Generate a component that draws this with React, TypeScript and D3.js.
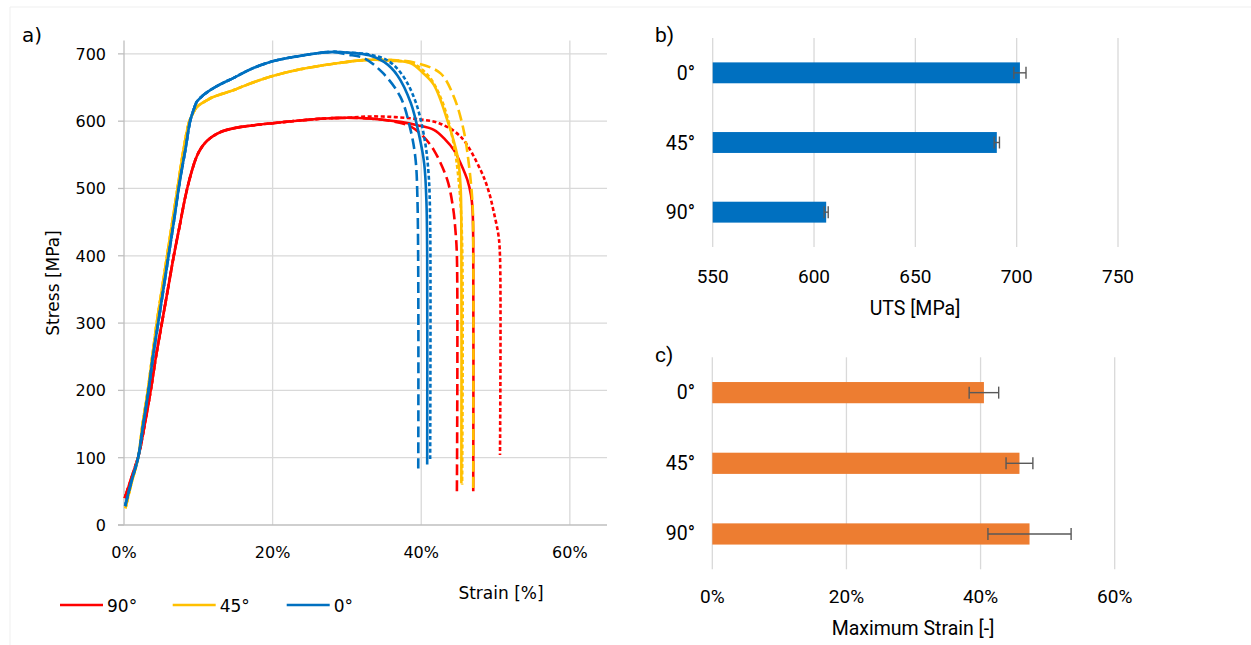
import React from 'react';
import * as d3 from 'd3';

// ---------- Panel a: stress-strain curves (strain in %, stress in MPa) ----------
const strainTicks = [0, 20, 40, 60];
const stressTicks = [0, 100, 200, 300, 400, 500, 600, 700];

const base0: [number, number][] = [[0.15, 28], [1.0, 65], [1.9, 100], [2.6, 150], [3.3, 200], [3.9, 250], [4.6, 300], [5.3, 350], [6.0, 400], [6.7, 450], [7.5, 510], [8.3, 560], [8.9, 600], [9.4, 618], [9.8, 629], [10.6, 638], [11.6, 646], [13, 655], [14.7, 664], [17, 677], [20, 689], [23.7, 697], [26, 701], [28.2, 703]];
const base45: [number, number][] = [[0.2, 25], [1.0, 62], [1.9, 100], [2.5, 150], [3.2, 200], [3.8, 250], [4.4, 300], [5.1, 350], [5.8, 400], [6.5, 450], [7.2, 500], [8.0, 557], [8.8, 600], [9.4, 614], [9.8, 621], [11, 630], [12, 636], [14.7, 646], [17, 656], [20, 667], [23.7, 677], [28, 685], [32.7, 691]];
const base90: [number, number][] = [[0.1, 40], [1.0, 70], [2.0, 105], [2.8, 150], [3.6, 200], [4.3, 250], [5.1, 300], [5.9, 350], [6.7, 400], [7.5, 445], [8.3, 490], [9.1, 525], [9.8, 548], [10.5, 562], [11.2, 571], [12, 578], [13, 584], [15, 590], [17.5, 594], [20, 597], [23.7, 601], [27, 604], [30, 605]];

const tail0Solid: [number, number][] = [[30, 702], [33, 698], [35, 688], [36.8, 668], [38.6, 627], [39.7, 580], [40.4, 537], [40.7, 480], [40.8, 400], [40.8, 90]];
const tail0Dashed: [number, number][] = [[30, 699], [32.2, 694], [34.8, 672], [37.2, 636], [38.5, 590], [39.2, 547], [39.5, 480], [39.6, 84]];
const tail0Dotted: [number, number][] = [[30, 702], [33, 699], [35.5, 690], [37.5, 668], [39.3, 627], [40.5, 570], [41.0, 520], [41.2, 450], [41.2, 98]];
const tail45Solid: [number, number][] = [[36, 690], [38.6, 686], [40.2, 672], [41.7, 654], [43.5, 602], [44.9, 547], [45.3, 502], [45.4, 430], [45.4, 62]];
const tail45Dashed: [number, number][] = [[36, 691], [39.5, 686], [42.6, 671], [44.4, 636], [45.7, 587], [46.4, 537], [46.9, 478], [47.0, 420], [47.0, 50]];
const tail45Dotted: [number, number][] = [[36, 690], [38.8, 686], [41, 667], [42.8, 630], [44.3, 570], [45.1, 505], [45.5, 420], [45.5, 60]];
const tail90Solid: [number, number][] = [[33, 604], [37.2, 599], [39.5, 594], [41.7, 587], [43.2, 573], [44.4, 557], [45.4, 535], [46.2, 513], [46.7, 490], [46.9, 470], [47.0, 420], [47.0, 50]];
const tail90Dashed: [number, number][] = [[33, 604], [36, 600], [38.6, 592], [40.3, 577], [41.7, 557], [43.5, 513], [44.3, 470], [44.6, 438], [44.8, 400], [44.8, 50]];
const tail90Dotted: [number, number][] = [[33, 607], [36.5, 606], [39.5, 603], [42.4, 597], [45.3, 577], [48, 527], [49.1, 495], [49.8, 463], [50.4, 430], [50.6, 399], [50.6, 104]];

const legendItems = ['90°', '45°', '0°'];
const colorOf: Record<string, string> = { '90°': '#FF0000', '45°': '#FFC000', '0°': '#0070C0' };

const curves = [
  { ori: '90°', dash: null, pts: [...base90, ...tail90Solid] },
  { ori: '90°', dash: '11,5', pts: [...base90, ...tail90Dashed] },
  { ori: '90°', dash: '4,2.5', pts: [...base90, ...tail90Dotted] },
  { ori: '45°', dash: null, pts: [...base45, ...tail45Solid] },
  { ori: '45°', dash: '11,5', pts: [...base45, ...tail45Dashed] },
  { ori: '45°', dash: '4,2.5', pts: [...base45, ...tail45Dotted] },
  { ori: '0°', dash: '4,2.5', pts: [...base0, ...tail0Dotted] },
  { ori: '0°', dash: '11,5', pts: [...base0, ...tail0Dashed] },
  { ori: '0°', dash: null, pts: [...base0, ...tail0Solid] },
];

// ---------- Panel b: UTS ----------
const barCategories = ['0°', '45°', '90°'];
const utsValues = [701.6, 690.2, 606.0];
const utsErrors = [3.0, 1.3, 1.0];
const utsTicks = [550, 600, 650, 700, 750];

// ---------- Panel c: maximum strain (%) ----------
const strainMaxValues = [40.5, 45.8, 47.3];
const strainMaxErrors = [2.2, 2.0, 6.2];
const strainMaxTicks = [0, 20, 40, 60];

const GRID = '#d9d9d9';
const AXIS = '#bfbfbf';
const FA = 'DejaVu Sans, sans-serif';
const FB = 'Roboto, sans-serif';

export default function App() {
  // Panel a scales
  const xA = d3.scaleLinear().domain([0, 65]).range([124, 607]);
  const yA = d3.scaleLinear().domain([0, 720]).range([525, 40.4]);
  const line = d3.line<[number, number]>().x(d => xA(d[0])).y(d => yA(d[1])).curve(d3.curveCatmullRom.alpha(0.5));

  // Panel b scales
  const xB = d3.scaleLinear().domain([550, 750]).range([712.7, 1118]);
  const yB = d3.scaleBand<string>().domain(barCategories).range([38, 247]).paddingInner(0.7).paddingOuter(0.35);

  // Panel c scales
  const xC = d3.scaleLinear().domain([0, 60]).range([712.3, 1114.7]);
  const yC = d3.scaleBand<string>().domain(barCategories).range([357.3, 569.3]).paddingInner(0.7).paddingOuter(0.35);

  const legendX = [60, 172.7, 286.7];

  return (
    <svg width={1251} height={645} style={{ position: 'absolute', left: 0, top: 0, background: '#fff' }}>
      <rect x={0} y={0} width={1251} height={645} fill="#fff" />
      <line x1={10} y1={7} x2={1251} y2={7} stroke="#efefef" strokeWidth={1} />
      <line x1={10} y1={7} x2={10} y2={645} stroke="#efefef" strokeWidth={1} />

      {/* ---------- Panel a ---------- */}
      <text x={22} y={42} fontFamily={FA} fontSize={20} fill="#000">a)</text>
      {stressTicks.filter(t => t > 0).map(t => (
        <line key={'hg' + t} x1={xA(0)} x2={xA(65)} y1={yA(t)} y2={yA(t)} stroke={GRID} strokeWidth={1.3} />
      ))}
      {strainTicks.filter(t => t > 0).map(t => (
        <line key={'vg' + t} x1={xA(t)} x2={xA(t)} y1={yA(720)} y2={yA(0)} stroke={GRID} strokeWidth={1.3} />
      ))}
      <line x1={xA(0)} x2={xA(0)} y1={yA(720)} y2={yA(0)} stroke={AXIS} strokeWidth={1.3} />
      <line x1={xA(0) - 6} x2={xA(65)} y1={yA(0)} y2={yA(0)} stroke={AXIS} strokeWidth={1.3} />
      {stressTicks.map(t => (
        <g key={'yt' + t}>
          <line x1={xA(0) - 6} x2={xA(0)} y1={yA(t)} y2={yA(t)} stroke={AXIS} strokeWidth={1.3} />
          <text x={106} y={yA(t) + 6} textAnchor="end" fontFamily={FA} fontSize={16} fill="#000">{t}</text>
        </g>
      ))}
      {strainTicks.map(t => (
        <text key={'xt' + t} x={xA(t)} y={558} textAnchor="middle" fontFamily={FA} fontSize={16} fill="#000">{t + '%'}</text>
      ))}
      <text transform="translate(59,283) rotate(-90)" textAnchor="middle" fontFamily={FA} fontSize={17} fill="#000">Stress [MPa]</text>
      <text x={501} y={599} textAnchor="middle" fontFamily={FA} fontSize={17} fill="#000">Strain [%]</text>

      {curves.map((c, i) => (
        <path key={'c' + i} d={line(c.pts) || ''} fill="none" stroke={colorOf[c.ori]} strokeWidth={2.6}
          strokeDasharray={c.dash || undefined} strokeLinejoin="round" />
      ))}

      {legendItems.map((k, i) => (
        <g key={'lg' + k}>
          <line x1={legendX[i]} x2={legendX[i] + 43} y1={605} y2={605} stroke={colorOf[k]} strokeWidth={2.6} />
          <text x={legendX[i] + 47} y={611.5} fontFamily={FA} fontSize={17} fill="#000">{k}</text>
        </g>
      ))}

      {/* ---------- Panel b ---------- */}
      <text x={655} y={41.5} fontFamily={FB} fontSize={21} fill="#000">b)</text>
      {utsTicks.map(t => (
        <g key={'bt' + t}>
          <line x1={xB(t)} x2={xB(t)} y1={38} y2={247} stroke={GRID} strokeWidth={1.3} />
          <text x={xB(t)} y={283.3} textAnchor="middle" fontFamily={FB} fontSize={19} fill="#000">{t}</text>
        </g>
      ))}
      {barCategories.map((c, i) => {
        const y0 = yB(c) as number;
        const bw = yB.bandwidth();
        const cy = y0 + bw / 2;
        return (
          <g key={'bb' + c}>
            <rect x={xB(550)} y={y0} width={xB(utsValues[i]) - xB(550)} height={bw} fill="#0070C0" />
            <line x1={xB(utsValues[i] - utsErrors[i])} x2={xB(utsValues[i] + utsErrors[i])} y1={cy} y2={cy} stroke="#595959" strokeWidth={1.4} />
            <line x1={xB(utsValues[i] - utsErrors[i])} x2={xB(utsValues[i] - utsErrors[i])} y1={cy - 6} y2={cy + 6} stroke="#595959" strokeWidth={1.4} />
            <line x1={xB(utsValues[i] + utsErrors[i])} x2={xB(utsValues[i] + utsErrors[i])} y1={cy - 6} y2={cy + 6} stroke="#595959" strokeWidth={1.4} />
            <text x={695} y={cy + 7} textAnchor="end" fontFamily={FB} fontSize={19.5} fill="#000">{c}</text>
          </g>
        );
      })}
      <text x={915} y={315} textAnchor="middle" fontFamily={FB} fontSize={19.5} fill="#000">UTS [MPa]</text>

      {/* ---------- Panel c ---------- */}
      <text x={655} y={362} fontFamily={FB} fontSize={21} fill="#000">c)</text>
      {strainMaxTicks.map(t => (
        <g key={'ct' + t}>
          <line x1={xC(t)} x2={xC(t)} y1={357.3} y2={569.3} stroke={GRID} strokeWidth={1.3} />
          <text x={xC(t)} y={603.3} textAnchor="middle" fontFamily={FB} fontSize={19} fill="#000">{t + '%'}</text>
        </g>
      ))}
      {barCategories.map((c, i) => {
        const y0 = yC(c) as number;
        const bw = yC.bandwidth();
        const cy = y0 + bw / 2;
        const lo = xC(strainMaxValues[i] - strainMaxErrors[i]);
        const hi = xC(strainMaxValues[i] + strainMaxErrors[i]);
        return (
          <g key={'cb' + c}>
            <rect x={xC(0)} y={y0} width={xC(strainMaxValues[i]) - xC(0)} height={bw} fill="#ED7D31" />
            <line x1={lo} x2={hi} y1={cy} y2={cy} stroke="#595959" strokeWidth={1.4} />
            <line x1={lo} x2={lo} y1={cy - 6} y2={cy + 6} stroke="#595959" strokeWidth={1.4} />
            <line x1={hi} x2={hi} y1={cy - 6} y2={cy + 6} stroke="#595959" strokeWidth={1.4} />
            <text x={695} y={cy + 6.5} textAnchor="end" fontFamily={FB} fontSize={19.5} fill="#000">{c}</text>
          </g>
        );
      })}
      <text x={913} y={635} textAnchor="middle" fontFamily={FB} fontSize={19.5} fill="#000">Maximum Strain [-]</text>
    </svg>
  );
}
